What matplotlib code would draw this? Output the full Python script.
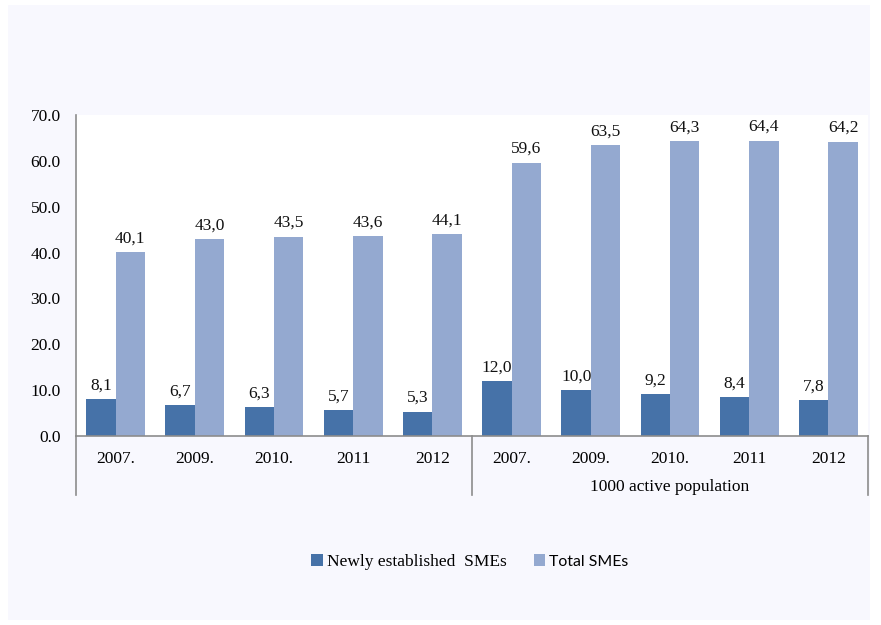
import matplotlib
matplotlib.use("Agg")
import matplotlib.pyplot as plt
import numpy as np
from matplotlib.patches import Rectangle
from matplotlib.font_manager import FontProperties

categories = ["2007.", "2009.", "2010.", "2011", "2012",
              "2007.", "2009.", "2010.", "2011", "2012"]
group_labels = ["", "1000 active population"]
newly = [8.1, 6.7, 6.3, 5.7, 5.3, 12.0, 10.0, 9.2, 8.4, 7.8]
total = [40.1, 43.0, 43.5, 43.6, 44.1, 59.6, 63.5, 64.3, 64.4, 64.2]
series_names = ["Newly established  SMEs", "Total SMEs"]
yticks = [0, 10, 20, 30, 40, 50, 60, 70]

c_dark = "#4672A8"
c_light = "#94A9D0"
serif = "Liberation Serif"

fig = plt.figure(figsize=(8.81, 6.25), dpi=100, facecolor="white")
fig.patches.append(Rectangle((8 / 881, 5 / 625), 862 / 881, 615 / 625,
                             transform=fig.transFigure, facecolor="#F8F8FE",
                             edgecolor="none", zorder=-10))

ax = fig.add_axes([76 / 881, 189 / 625, 792 / 881, 321 / 625])
ax.set_facecolor("white")

x = np.arange(len(categories))
w = 0.37
b1 = ax.bar(x - w / 2, newly, w, color=c_dark, label=series_names[0])
b2 = ax.bar(x + w / 2, total, w, color=c_light, label=series_names[1])

for bars, vals in ((b1, newly), (b2, total)):
    for r, v in zip(bars, vals):
        ax.annotate(f"{v:.1f}".replace(".", ","),
                    (r.get_x() + r.get_width() / 2, r.get_height()),
                    xytext=(0, 4), textcoords="offset points",
                    ha="center", va="bottom", fontsize=12.5, family=serif,
                    color="#111111")

ax.set_xlim(-0.5, len(categories) - 0.5)
ax.set_ylim(0, 70)
ax.set_yticks(yticks)
ax.set_yticklabels([f"{t:.1f}" for t in yticks], family=serif, fontsize=12.5)
ax.set_xticks(x)
ax.set_xticklabels(categories, family=serif, fontsize=12.5)
ax.tick_params(axis="y", length=0, pad=11)
ax.tick_params(axis="x", length=0, pad=11)

for s in ("top", "right"):
    ax.spines[s].set_visible(False)
for s in ("left", "bottom"):
    ax.spines[s].set_color("#8C8C8C")
    ax.spines[s].set_linewidth(1.2)

# group separators
ybot = -(495 - 436) / 321
for xf in (0, 0.5, 1.0):
    ax.plot([xf, xf], [0, ybot], transform=ax.transAxes, color="#8C8C8C",
            lw=1.2, clip_on=False)
for i, g in enumerate(group_labels):
    ax.text(0.25 + 0.5 * i, -(487 - 436) / 321, g, transform=ax.transAxes,
            ha="center", va="center", family=serif, fontsize=12.5)

leg = fig.legend(handles=[b1, b2], labels=series_names, loc="center",
                 bbox_to_anchor=(470 / 881, 1 - 562 / 625), ncol=2,
                 frameon=False, handlelength=0.7, handleheight=0.7,
                 handletextpad=0.25, columnspacing=1.6, fontsize=12)
texts = leg.get_texts()
texts[0].set_fontproperties(FontProperties(family=serif, size=12.5))
texts[1].set_fontproperties(FontProperties(family="Lato", size=11.4))

fig.savefig("out.png", dpi=100, facecolor="white")
